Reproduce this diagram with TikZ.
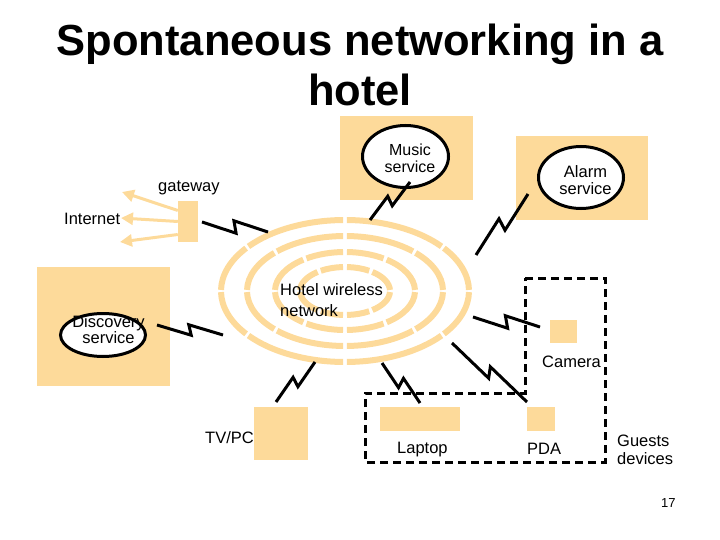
\documentclass[tikz,border=0pt]{standalone}
\usepackage{fontspec}
\setmainfont{Liberation Sans}
\usetikzlibrary{calc, arrows.meta, shapes.geometric}

\definecolor{peach}{RGB}{253,218,154}
\newcommand{\lblfont}{\fontsize{16.5}{17}\selectfont}

\begin{document}
\begin{tikzpicture}[x=1pt, y=-1pt,
    room/.style={fill=peach, inner sep=0pt},
    svc/.style={ellipse, draw, line width=3pt, fill=white, inner sep=0pt},
    lbl/.style={inner sep=0pt, font=\lblfont},
    wave/.style={peach, line width=6pt},
    feed/.style={peach, line width=3pt, -{Triangle[length=12pt, width=12pt]}},
    bolt/.style={line width=3pt, to path={-- ($(\tikztostart)!0.53!(\tikztotarget)!#1!-90:(\tikztotarget)$) -- ($(\tikztostart)!0.47!(\tikztotarget)!#1!90:(\tikztotarget)$) -- (\tikztotarget)}},
    guests/.style={line width=3pt, dash pattern=on 8pt off 5pt}]
    \useasboundingbox (0,0) rectangle (720,540);

    % title
    \node[inner sep=0pt, align=center, font=\fontsize{43.5}{50}\selectfont\bfseries, anchor=north] (title) at (360,24) {Spontaneous networking in a\\hotel};

    % hotel wireless network
    \coordinate (wlan) at (345,291);
    \foreach \rx/\ry/\dg in {124/71/38, 98/55/45, 70/39/55, 45/24/55} {
        \pgfmathsetmacro\gap{172/(\rx+\ry)}
        \foreach \a/\b in {0/\dg, \dg/90, 90/180-\dg, 180-\dg/180, 180/180+\dg, 180+\dg/270, 270/360-\dg, 360-\dg/360} {
            \pgfmathsetmacro\sa{\a+\gap}
            \pgfmathsetmacro\ea{\b-\gap}
            \draw[wave] (wlan) ++({\rx*cos(\sa)},{\ry*sin(\sa)}) arc[start angle=\sa, end angle=\ea, x radius=\rx, y radius=\ry];
        }
    }

    % rooms and devices
    \node[room, minimum width=133pt, minimum height=84pt] (musicroom) at (406.5,158) {};
    \node[room, minimum width=132pt, minimum height=84pt] (alarmroom) at (582,178) {};
    \node[room, minimum width=133pt, minimum height=119pt] (discroom) at (103.5,326.5) {};
    \node[room, minimum width=20pt, minimum height=41pt] (gw) at (188,221.5) {};
    \node[room, minimum width=27pt, minimum height=23pt] (camera) at (563.5,331.5) {};
    \node[room, minimum width=80pt, minimum height=24pt] (laptop) at (420,419) {};
    \node[room, minimum width=28pt, minimum height=24pt] (pda) at (541,419) {};
    \node[room, minimum width=54pt, minimum height=53pt] (tv) at (281,433.5) {};

    % services
    \node[svc, minimum width=86pt, minimum height=62pt] (music) at (405.5,156.5) {};
    \node[svc, minimum width=85pt, minimum height=62pt] (alarm) at (581,177.5) {};
    \node[svc, minimum width=85pt, minimum height=43pt] (disc) at (103,335) {};

    % radio links
    \coordinate (gwlink) at (202,222);      \coordinate (gwring) at (268,232);
    \coordinate (musiclink) at (410,182);   \coordinate (musicring) at (370,220);
    \coordinate (alarmlink) at (528,194);   \coordinate (alarmring) at (476,255);
    \coordinate (disclink) at (157,325);    \coordinate (discring) at (223,335);
    \coordinate (camlink) at (540,327);     \coordinate (camring) at (473,317);
    \coordinate (pdalink) at (527,402);     \coordinate (pdaring) at (452,343);
    \coordinate (laptoplink) at (420,403);  \coordinate (laptopring) at (382,363);
    \coordinate (tvlink) at (276,402);      \coordinate (tvring) at (315,362);
    \draw[bolt=6pt] (gwlink) to (gwring);
    \draw[bolt=-5pt] (musiclink) to (musicring);
    \draw[bolt=-6pt] (alarmlink) to (alarmring);
    \draw[bolt=5pt] (disclink) to (discring);
    \draw[bolt=6pt] (camlink) to (camring);
    \draw[bolt=5pt] (pdalink) to (pdaring);
    \draw[bolt=5pt] (laptoplink) to (laptopring);
    \draw[bolt=-5pt] (tvlink) to (tvring);

    % gateway to the internet
    \coordinate (net1) at (122,192);
    \coordinate (net2) at (121,218);
    \coordinate (net3) at (120,242);
    \draw[feed] ([yshift=11pt]gw.west) -- (net1);
    \draw[feed] (gw.west) -- (net2);
    \draw[feed] ([yshift=-13pt]gw.west) -- (net3);

    % guests devices
    \draw[guests] (525,278) -- (605,278) -- (605,462) -- (365,462) -- (365,393) -- (525,393) -- cycle;

    % labels
    \node[lbl, anchor=base west] (gwlabel) at (158,192) {gateway};
    \node[lbl, anchor=base west] (netlabel) at (64,225) {Internet};
    \node[lbl, align=center, font=\fontsize{16}{16.5}\selectfont] (musiclabel) at (410,158.5) {Music\\service};
    \node[lbl, align=center] (alarmlabel) at (585.5,180.5) {Alarm\\service};
    \node[lbl, align=center, font=\fontsize{16.5}{16}\selectfont] (disclabel) at (108.5,329.5) {Discovery\\service};
    \node[lbl, align=left, anchor=west, font=\fontsize{16.5}{21}\selectfont] (wlanlabel) at (280,300.5) {Hotel wireless\\network};
    \node[lbl, anchor=base west] (camlabel) at (542,367) {Camera};
    \node[lbl, anchor=base west] (laptoplabel) at (397,453) {Laptop};
    \node[lbl, anchor=base west] (pdalabel) at (527,454) {PDA};
    \node[lbl, anchor=base west] (tvlabel) at (205,443) {TV/PC};
    \node[lbl, align=left, anchor=west, font=\fontsize{16.5}{18}\selectfont] (guestlabel) at (617,450) {Guests\\devices};
    \node[inner sep=0pt, anchor=base west, font=\fontsize{13}{15}\selectfont] (page) at (661,507) {17};
\end{tikzpicture}
\end{document}
